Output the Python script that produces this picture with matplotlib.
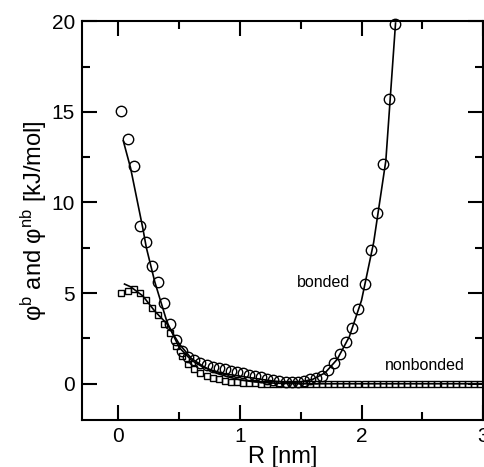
import matplotlib
matplotlib.use("Agg")
import matplotlib.pyplot as plt
import numpy as np

plt.rcParams['font.family'] = ['Liberation Sans', 'DejaVu Sans']
plt.rcParams['mathtext.fontset'] = 'custom'
plt.rcParams['mathtext.rm'] = 'Liberation Sans'
plt.rcParams['mathtext.it'] = 'Liberation Sans'

# bonded potential, sampled points
r_b = [0.025, 0.075, 0.125, 0.175, 0.225, 0.275, 0.325, 0.375, 0.425, 0.475,
       0.525, 0.575, 0.625, 0.675, 0.725, 0.775, 0.825, 0.875, 0.925, 0.975,
       1.025, 1.075, 1.125, 1.175, 1.225, 1.275, 1.325, 1.375, 1.425, 1.475,
       1.525, 1.575, 1.625, 1.675, 1.725, 1.775, 1.825, 1.875, 1.925, 1.975,
       2.025, 2.075, 2.125, 2.175, 2.225, 2.275]
phi_b = [15.05, 13.5, 12.0, 8.7, 7.8, 6.5, 5.6, 4.45, 3.3, 2.4,
         1.8, 1.5, 1.3, 1.15, 1.05, 0.95, 0.87, 0.8, 0.72, 0.65,
         0.58, 0.5, 0.42, 0.35, 0.28, 0.2, 0.13, 0.1, 0.1, 0.12,
         0.18, 0.26, 0.34, 0.45, 0.75, 1.17, 1.63, 2.28, 3.1, 4.1,
         5.5, 7.4, 9.4, 12.1, 15.7, 19.85]

# bonded fit
r_bfit = [0.04, 0.1, 0.2, 0.23, 0.3, 0.4, 0.5, 0.6, 0.7, 0.8, 0.9, 1.0,
          1.1, 1.2, 1.3, 1.4, 1.5, 1.6, 1.7, 1.8, 1.9, 2.0, 2.1, 2.2, 2.28]
phi_bfit = [13.4, 11.9, 8.6, 7.5, 5.6, 3.4, 2.0, 1.3, 0.9, 0.68, 0.52, 0.42,
            0.32, 0.22, 0.13, 0.08, 0.1, 0.25, 0.6, 1.35, 2.6, 4.6, 7.8, 12.3, 19.9]

# nonbonded potential, sampled points
r_nb = [0.025 + 0.05 * i for i in range(60)]
phi_nb = [5.0, 5.1, 5.2, 5.0, 4.6, 4.2, 3.8, 3.3, 2.8, 2.1,
          1.55, 1.1, 0.8, 0.6, 0.45, 0.33, 0.24, 0.17, 0.12, 0.08,
          0.05, 0.03, 0.02, 0.01] + [0.0] * 36

# nonbonded fit
r_nbfit = [0.05, 0.1, 0.2, 0.3, 0.4, 0.5, 0.6, 0.7, 0.8, 0.9, 1.0,
           1.1, 1.2, 1.3, 1.4, 1.5, 3.0]
phi_nbfit = [5.5, 5.35, 4.85, 4.0, 3.3, 2.2, 1.4, 0.95, 0.6, 0.38, 0.22,
             0.12, 0.06, 0.03, 0.01, 0.0, 0.0]

fig = plt.figure(figsize=(4.85, 4.67), dpi=100)
ax = fig.add_axes([0.169, 0.1006, 0.827, 0.854])

ax.plot(r_bfit, phi_bfit, color='black', lw=1.2)
ax.plot(r_nbfit, phi_nbfit, color='black', lw=1.2)
ax.plot(r_nb, phi_nb, ls='none', marker='s', ms=5, mfc='none', mec='black',
        mew=1.0, clip_on=False)
ax.plot(r_b, phi_b, ls='none', marker='o', ms=7.5, mfc='none', mec='black',
        mew=1.0, clip_on=False)

ax.text(0.536, 0.346, 'bonded', transform=ax.transAxes, fontsize=11.5,
        ha='left', va='center')
ax.text(0.855, 0.137, 'nonbonded', transform=ax.transAxes, fontsize=11.5,
        ha='center', va='center')

ax.set_xlim(-0.3, 3)
ax.set_ylim(-2, 20)
ax.set_xticks([0, 1, 2, 3])
ax.set_xticks([0.5, 1.5, 2.5], minor=True)
ax.set_yticks([0, 5, 10, 15, 20])
ax.set_yticks([2.5, 7.5, 12.5, 17.5], minor=True)
ax.tick_params(which='both', direction='in', top=True, right=True,
               labelsize=15, width=1.5)
ax.tick_params(which='major', length=11, pad=5)
ax.tick_params(which='minor', length=6)
for s in ax.spines.values():
    s.set_linewidth(1.5)

ax.set_xlabel('R [nm]', fontsize=17, labelpad=0)
ax.set_ylabel('φ$^{\\rm b}$ and φ$^{\\rm nb}$ [kJ/mol]', fontsize=17, labelpad=2)

fig.savefig('out.png', dpi=100)
